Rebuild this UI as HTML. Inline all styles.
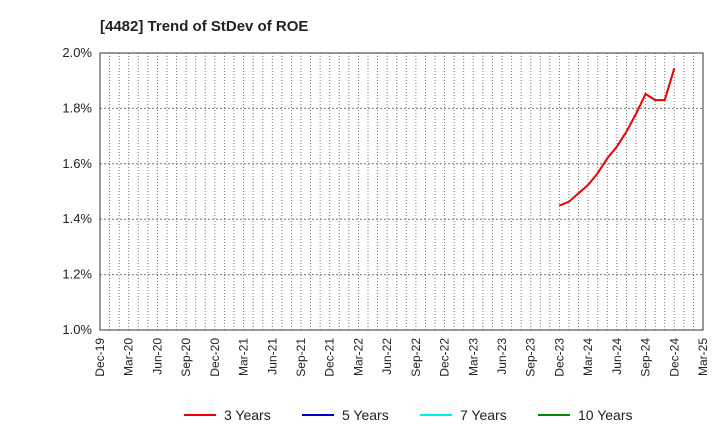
<!DOCTYPE html>
<html><head><meta charset="utf-8"><style>
body{margin:0;background:#fff;font-family:"Liberation Sans",sans-serif}
</style></head><body>
<svg id="c" width="720" height="440" xmlns="http://www.w3.org/2000/svg">
<text x="100" y="31" font-size="15" font-weight="bold" fill="#222">[4482]  Trend of StDev of ROE</text>
<g id="grid"></g>
<g id="axes"></g>
<g id="series"></g>
<g id="legend"></g>
</svg>
<script>
const xLabels=["Dec-19","Mar-20","Jun-20","Sep-20","Dec-20","Mar-21","Jun-21","Sep-21","Dec-21","Mar-22","Jun-22","Sep-22","Dec-22","Mar-23","Jun-23","Sep-23","Dec-23","Mar-24","Jun-24","Sep-24","Dec-24","Mar-25"];
const yTicks=[1.0,1.2,1.4,1.6,1.8,2.0];
const series3Start=48;
const series3=[1.449,1.463,1.494,1.524,1.566,1.620,1.662,1.716,1.780,1.852,1.830,1.830,1.945];
const L=100,R=703,T=53,B=330,months=63;
const xs=m=>L+(R-L)*m/months;
const ys=v=>B-(v-1.0)/(1.0)*(B-T);
const NS="http://www.w3.org/2000/svg";
function mk(tag,attrs,parent){const e=document.createElementNS(NS,tag);for(const k in attrs)e.setAttribute(k,attrs[k]);parent.appendChild(e);return e;}
const grid=document.getElementById('grid'),axes=document.getElementById('axes'),ser=document.getElementById('series'),leg=document.getElementById('legend');
for(let m=1;m<months;m++){const l=mk('line',{x1:xs(m),x2:xs(m),y1:T,y2:B,stroke:'#777','stroke-dasharray':'1,2','stroke-width':1},grid);

}
yTicks.forEach(v=>{if(v>1.0&&v<2.0){const l=mk('line',{x1:L,x2:R,y1:ys(v),y2:ys(v),stroke:'#777','stroke-dasharray':'2,2','stroke-width':1},grid);

}
const t=mk('text',{x:L-8,y:ys(v)+4,'text-anchor':'end','font-size':13,fill:'#222'},axes);t.textContent=v.toFixed(1)+'%';

});
const fr=mk('rect',{x:L,y:T,width:R-L,height:B-T,fill:'none',stroke:'#333','stroke-width':1},axes);


xLabels.forEach((s,i)=>{const x=xs(i*3);const t=mk('text',{x:0,y:0,'text-anchor':'end','font-size':12,fill:'#222',transform:`translate(${x+4},${B+8}) rotate(-90)`},axes);t.textContent=s;

});
const pts=series3.map((v,i)=>xs(series3Start+i).toFixed(1)+','+ys(v).toFixed(1)).join(' ');
const pl=mk('polyline',{points:pts,fill:'none',stroke:'#e00','stroke-width':2},ser);


const legItems=[["3 Years","#e00",184],["5 Years","#00c",302],["7 Years","#0ee",420],["10 Years","#080",538]];
legItems.forEach(([n,c,x])=>{const g=mk('g',{},leg);


mk('line',{x1:x,x2:x+32,y1:415,y2:415,stroke:c,'stroke-width':2},g);
const t=mk('text',{x:x+40,y:420,'font-size':14,fill:'#222'},g);t.textContent=n;});
</script>
</body></html>
